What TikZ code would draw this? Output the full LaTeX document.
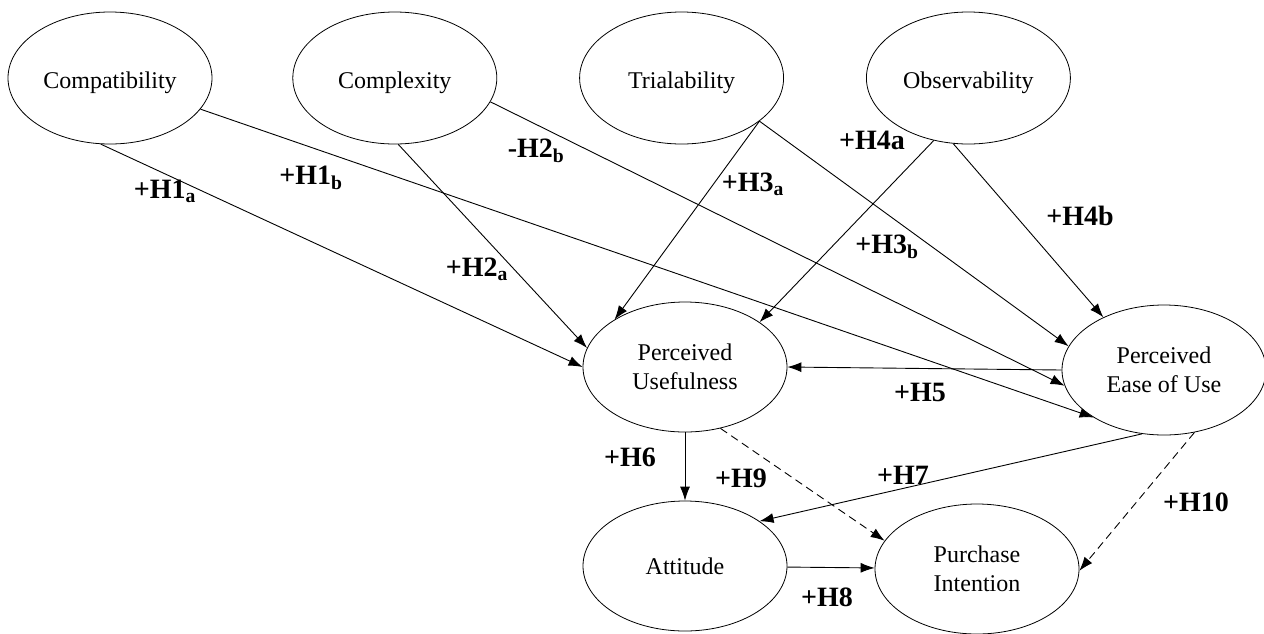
\documentclass[tikz,border=0pt]{standalone}
\usepackage{fontspec}
\setmainfont{Liberation Serif}
\usetikzlibrary{positioning,shapes,arrows.meta}
\tikzstyle{ebox}=[ellipse, draw=black, line width=0.8pt, minimum width=204pt,
                  minimum height=130pt, inner sep=0pt, align=center,
                  font=\fontsize{24}{29}\selectfont]
\tikzstyle{tbox}=[ebox, minimum height=132pt, text height=21pt, text depth=0pt]
\tikzstyle{hlab}=[inner sep=0pt, font=\fontsize{28}{30}\selectfont\bfseries]
\tikzstyle{pline}=[-{Latex[length=14pt,width=10pt]}, line width=0.9pt]
\tikzstyle{dline}=[pline, dash pattern=on 8pt off 5pt]

\begin{document}
\begin{tikzpicture}[x=1pt,y=-1pt]
\useasboundingbox (0,0) rectangle (1264,633);

% innovation attributes
\node (COMPAT) [tbox] at (110,78) {Compatibility};
\node (COMPLEX) [tbox, right=80pt of COMPAT] {Complexity};
\node (TRIAL) [tbox, right=82pt of COMPLEX] {Trialability};
\node (OBSERV) [tbox, right=82pt of TRIAL] {Observability};

% TAM constructs
\node (PU) [ebox] at (685,367) {Perceived\\Usefulness};
\node (PEU) [ebox] at (1164,370) {Perceived\\Ease of Use};
\node (ATT) [ebox] at (685,566) {Attitude};
\node (PI) [ebox] at (977,569) {Purchase\\Intention};

 \draw[pline] (COMPAT.-98) -- (PU.180);
 \draw[pline] (COMPAT.-19) -- (PEU.-146);
 \draw[pline] (COMPLEX.-87) -- (PU.169);
 \draw[pline] (COMPLEX.-14) -- (PEU.-171);
 \draw[pline] (TRIAL.-29) -- (PU.146);
 \draw[pline] (TRIAL.-29) -- (PEU.166);
 \draw[pline] (OBSERV.-119) -- (PU.31);
 \draw[pline] (OBSERV.-103) -- (PEU.139);
 \draw[pline] (PEU.180) -- (PU.0);
 \draw[pline] (PU.-90) -- (ATT.90);
 \draw[pline] (PEU.-109) -- (ATT.31);
 \draw[pline] (ATT) -- (PI);
 \draw[dline] (PU.-60) -- (PI.163);
 \draw[dline] (PEU.-64) -- (PI.-1);

% hypotheses
\node (H1A) [hlab] at (165,191) {+H1\textsubscript{a}};
\node (H1B) [hlab] at (311,178) {+H1\textsubscript{b}};
\node (H2B) [hlab] at (536,151) {-H2\textsubscript{b}};
\node (H2A) [hlab] at (477,269) {+H2\textsubscript{a}};
\node (H3A) [hlab] at (753,184) {+H3\textsubscript{a}};
\node (H4A) [hlab] at (872,140) {+H4a};
\node (H3B) [hlab] at (887,247) {+H3\textsubscript{b}};
\node (H4B) [hlab] at (1080,216) {+H4b};
\node (H5) [hlab] at (920,392) {+H5};
\node (H6) [hlab] at (630,457) {+H6};
\node (H9) [hlab] at (741,478) {+H9};
\node (H7) [hlab] at (903,475) {+H7};
\node (H10) [hlab] at (1196,502) {+H10};
\node (H8) [hlab] at (827,597) {+H8};

\end{tikzpicture}
\end{document}
